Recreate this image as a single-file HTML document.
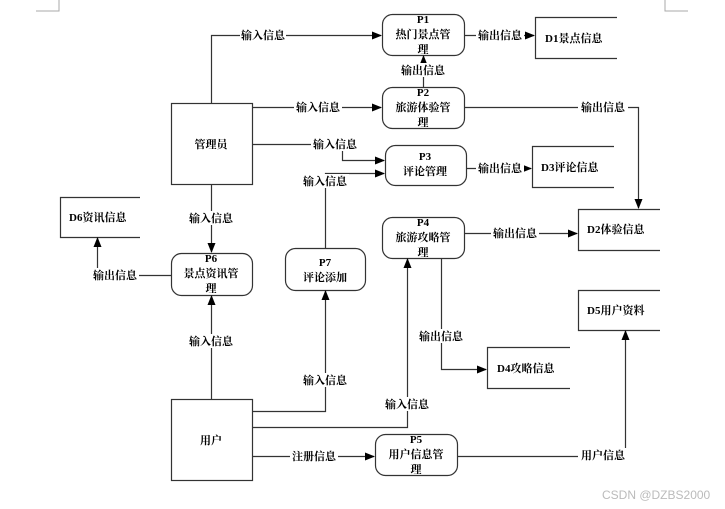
<!DOCTYPE html>
<html><head><meta charset="utf-8"><style>
html,body{margin:0;padding:0;background:#fff;}
svg{display:block;}
text{font-family:"Liberation Serif","Noto Serif CJK SC","Noto Sans CJK SC",serif;font-size:11px;font-weight:bold;fill:#000;}
</style></head><body>
<svg width="725" height="509" viewBox="0 0 725 509" xmlns="http://www.w3.org/2000/svg">
<defs><marker id="a" markerWidth="10" markerHeight="8" refX="9" refY="4" orient="auto" markerUnits="userSpaceOnUse"><path d="M0,0 L10,4 L0,8 z" fill="#000"/></marker></defs>
<g stroke="#aaa" fill="none" stroke-width="1">
<path d="M59,0 V11 H36"/><path d="M665,0 V11 H688"/>
</g>
<g stroke="#333" fill="none" stroke-width="1.2">
<!-- boxes -->
<rect x="171.5" y="103.5" width="81" height="81"/>
<rect x="171.5" y="399.5" width="81" height="81"/>
<rect x="382.5" y="14.5" width="82" height="41" rx="10"/>
<rect x="382.5" y="87.5" width="82" height="41" rx="10"/>
<rect x="385.5" y="145.5" width="81" height="40" rx="10"/>
<rect x="382.5" y="217.5" width="82" height="41" rx="10"/>
<rect x="171.5" y="253.5" width="81" height="42" rx="10"/>
<rect x="285.5" y="248.5" width="80" height="42" rx="10"/>
<rect x="375.5" y="434.5" width="82" height="41" rx="10"/>
<!-- stores -->
<path d="M617,17.5 H535.5 V58.5 H617"/>
<path d="M614,146.5 H532.5 V187.5 H614"/>
<path d="M140,197.5 H60.5 V237.5 H140"/>
<path d="M660,209.5 H578.5 V250.5 H660"/>
<path d="M660,290.5 H578.5 V330.5 H660"/>
<path d="M570,347.5 H487.5 V388.5 H570"/>
<!-- connectors -->
<path d="M211.5,103 V35.5 H381" marker-end="url(#a)"/>
<path d="M253,107.5 H381" marker-end="url(#a)"/>
<path d="M253,144.5 H342.5 V160.5 H384" marker-end="url(#a)"/>
<path d="M325.5,248 V173.5 H384" marker-end="url(#a)"/>
<path d="M423.5,87 V56" marker-end="url(#a)"/>
<path d="M465,35.5 H534" marker-end="url(#a)"/>
<path d="M467,168.5 H531" marker-end="url(#a)"/>
<path d="M465,107.5 H638.5 V208" marker-end="url(#a)"/>
<path d="M211.5,185 V252" marker-end="url(#a)"/>
<path d="M171,275.5 H97.5 V238" marker-end="url(#a)"/>
<path d="M211.5,399 V296" marker-end="url(#a)"/>
<path d="M253,411.5 H325.5 V291" marker-end="url(#a)"/>
<path d="M253,427.5 H407.5 V259" marker-end="url(#a)"/>
<path d="M253,456.5 H374" marker-end="url(#a)"/>
<path d="M458,456.5 H625.5 V331" marker-end="url(#a)"/>
<path d="M465,233.5 H577" marker-end="url(#a)"/>
<path d="M441.5,259 V369.5 H486" marker-end="url(#a)"/>
</g>
<g text-anchor="middle">
<!-- label backgrounds -->
<g fill="#fff">
<rect x="240" y="28" width="46" height="14"/><rect x="294" y="100" width="48" height="14"/>
<rect x="311" y="137" width="48" height="14"/><rect x="301" y="174" width="48" height="14"/>
<rect x="399" y="63" width="48" height="14"/><rect x="476" y="28" width="48" height="14"/>
<rect x="476" y="161" width="48" height="14"/><rect x="578" y="100" width="50" height="14"/>
<rect x="187" y="211" width="48" height="14"/><rect x="91" y="268" width="48" height="14"/>
<rect x="187" y="334" width="48" height="14"/><rect x="301" y="373" width="48" height="14"/>
<rect x="383" y="397" width="48" height="14"/><rect x="290" y="449" width="48" height="14"/>
<rect x="578" y="448" width="50" height="14"/><rect x="491" y="226" width="48" height="14"/>
<rect x="417" y="329" width="48" height="14"/>
</g>
<text x="263" y="39">输入信息</text>
<text x="318" y="111">输入信息</text>
<text x="335" y="148">输入信息</text>
<text x="325" y="185">输入信息</text>
<text x="423" y="74">输出信息</text>
<text x="500" y="39">输出信息</text>
<text x="500" y="172">输出信息</text>
<text x="603" y="111">输出信息</text>
<text x="211" y="222">输入信息</text>
<text x="115" y="279">输出信息</text>
<text x="211" y="345">输入信息</text>
<text x="325" y="384">输入信息</text>
<text x="407" y="408">输入信息</text>
<text x="314" y="460">注册信息</text>
<text x="603" y="459">用户信息</text>
<text x="515" y="237">输出信息</text>
<text x="441" y="340">输出信息</text>
<!-- nodes -->
<text x="211" y="148">管理员</text>
<text x="211" y="444">用户</text>
<text x="423" y="23">P1</text><text x="423" y="38">热门景点管</text><text x="423" y="53">理</text>
<text x="423" y="96">P2</text><text x="423" y="111">旅游体验管</text><text x="423" y="126">理</text>
<text x="425" y="160">P3</text><text x="425" y="175">评论管理</text>
<text x="423" y="226">P4</text><text x="423" y="241">旅游攻略管</text><text x="423" y="256">理</text>
<text x="211" y="262">P6</text><text x="211" y="277">景点资讯管</text><text x="211" y="292">理</text>
<text x="325" y="266">P7</text><text x="325" y="281">评论添加</text>
<text x="416" y="443">P5</text><text x="416" y="458">用户信息管</text><text x="416" y="473">理</text>
</g>
<g>
<text x="545" y="42">D1景点信息</text>
<text x="541" y="171">D3评论信息</text>
<text x="69" y="221">D6资讯信息</text>
<text x="587" y="233">D2体验信息</text>
<text x="587" y="314">D5用户资料</text>
<text x="497" y="372">D4攻略信息</text>
</g>
<text x="602" y="499" style="font-family:'Liberation Sans',sans-serif;font-weight:normal;font-size:12px;fill:#bbb">CSDN @DZBS2000</text>
</svg>
</body></html>
